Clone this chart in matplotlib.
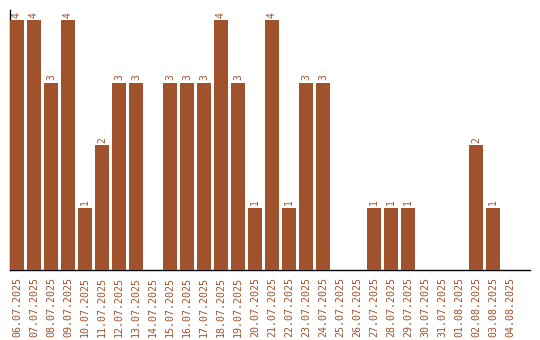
import matplotlib
matplotlib.use("Agg")
import matplotlib.pyplot as plt

dates = [
    "06.07.2025", "07.07.2025", "08.07.2025", "09.07.2025", "10.07.2025",
    "11.07.2025", "12.07.2025", "13.07.2025", "14.07.2025", "15.07.2025",
    "16.07.2025", "17.07.2025", "18.07.2025", "19.07.2025", "20.07.2025",
    "21.07.2025", "22.07.2025", "23.07.2025", "24.07.2025", "25.07.2025",
    "26.07.2025", "27.07.2025", "28.07.2025", "29.07.2025", "30.07.2025",
    "31.07.2025", "01.08.2025", "02.08.2025", "03.08.2025", "04.08.2025",
]
counts = [4, 4, 3, 4, 1, 2, 3, 3, 0, 3, 3, 3, 4, 3, 1, 4, 1, 3, 3, 0,
          0, 1, 1, 1, 0, 0, 0, 2, 1, 0]

BAR = "#a0522d"
FONT = "DejaVu Sans Mono"

fig = plt.figure(figsize=(5.4, 3.4), dpi=100)
ax = fig.add_axes([10 / 540, 70 / 340, 520 / 540, 260 / 340])

x = list(range(len(dates)))
ax.bar(x, counts, width=0.82, color=BAR, zorder=3)
for i, v in zip(x, counts):
    if v > 0:
        ax.text(i, v + 0.04, str(v), rotation=90, ha="center", va="bottom",
                fontsize=7, family=FONT, color=BAR)

ax.set_xlim(-0.41, 30.18)
ax.set_ylim(0, 4.16)
ax.set_xticks(x)
ax.set_xticklabels(dates, rotation=90, fontsize=7.2, family=FONT, color=BAR)
ax.tick_params(axis="x", length=0, pad=5)
ax.set_yticks([])
ax.spines["top"].set_visible(False)
ax.spines["right"].set_visible(False)
ax.spines["left"].set_linewidth(1)
ax.spines["bottom"].set_linewidth(1)
ax.spines["left"].set_zorder(1)

fig.savefig("out.png", dpi=100)
